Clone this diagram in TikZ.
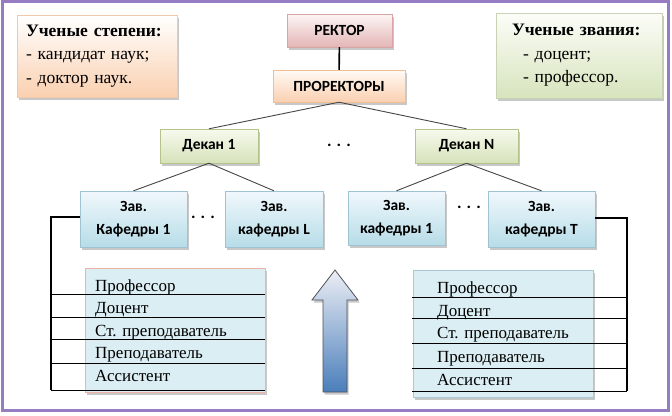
\documentclass[tikz,border=0pt]{standalone}
\usepackage{fontspec}
\setmainfont{Liberation Serif}
\newfontfamily\calib{Carlito}
\usetikzlibrary{shadows}
\definecolor{framec}{RGB}{150,125,195}
\definecolor{lnk}{RGB}{70,70,70}
\begin{document}
\begin{tikzpicture}[x=1pt,y=-1pt,
  shd/.style={drop shadow={shadow xshift=1.5pt,shadow yshift=-2.5pt,opacity=0.3,fill=black!70}},
  bx/.style={shd,inner sep=0pt,align=center,font=\calib\bfseries\fontsize{15.5}{23}\selectfont},
  rektor/.style={bx,draw={rgb,255:red,215;green,165;blue,165},top color={rgb,255:red,253;green,245;blue,245},bottom color={rgb,255:red,228;green,182;blue,182}},
  prorek/.style={bx,draw={rgb,255:red,240;green,190;blue,150},top color={rgb,255:red,255;green,250;blue,245},bottom color={rgb,255:red,250;green,208;blue,176}},
  dekan/.style={bx,draw={rgb,255:red,180;green,195;blue,140},top color={rgb,255:red,247;green,250;blue,238},bottom color={rgb,255:red,214;green,226;blue,186},minimum height=34pt},
  kaf/.style={bx,draw={rgb,255:red,160;green,195;blue,210},top color={rgb,255:red,240;green,248;blue,252},bottom color={rgb,255:red,183;green,220;blue,232},minimum height=56pt},
  info/.style={shd,inner sep=0pt,align=left,font=\fontsize{17.5}{23.5}\selectfont},
  tbl/.style={shd,fill={rgb,255:red,219;green,238;blue,243},inner sep=0pt},
  row/.style={anchor=base west,inner sep=0pt,font=\fontsize{17}{20}\selectfont},
  conn/.style={draw=lnk,line width=0.9pt},
  vline/.style={draw=black,line width=1.8pt},
  rl/.style={draw=black,line width=0.9pt},
  dots/.style={inner sep=0pt,font=\calib\bfseries\fontsize{17}{18}\selectfont}]
\useasboundingbox (0,0) rectangle (672,415);
\fill[white] (0,0) rectangle (672,415);
\draw[framec,line width=3pt] (2,1.5) rectangle (668.5,410.5);

% info boxes
\node[info,draw={rgb,255:red,240;green,200;blue,170},top color=white,bottom color={rgb,255:red,250;green,208;blue,176},
  minimum width=160pt,minimum height=82pt,text width=142pt] (deg) at (97,56)
  {\textbf{Ученые степени:}\\- кандидат наук;\\- доктор наук.};
\node[info,draw={rgb,255:red,200;green,210;blue,180},top color={rgb,255:red,252;green,253;blue,248},bottom color={rgb,255:red,215;green,228;blue,189},
  minimum width=166pt,minimum height=85pt,text width=134pt] (tit) at (579,55.5)
  {\textbf{Ученые звания:}\\\hspace*{11pt}- доцент;\\\hspace*{11pt}- профессор.};

% tree
\node[rektor,minimum width=105pt,minimum height=33pt] (r) at (339.5,30.5) {РЕКТОР};
\node[prorek,minimum width=132pt,minimum height=32pt] (p) at (339,86) {ПРОРЕКТОРЫ};
\node[dekan,minimum width=98pt] (d1) at (209,146) {Декан 1};
\node[dekan,minimum width=103pt] (dn) at (466.5,146) {Декан N};
\node[dots] (dd) at (339,145) {. . .};

\node[kaf,minimum width=107pt] (k1) at (133.5,219) {Зав.\\Кафедры 1};
\node[kaf,minimum width=98pt] (kl) at (274,219) {Зав.\\кафедры L};
\node[kaf,minimum width=97pt,minimum height=54pt] (k2) at (396.5,218) {Зав.\\кафедры 1};
\node[kaf,minimum width=107pt] (kt) at (541.5,219) {Зав.\\кафедры T};
\node[dots] (da) at (203,217) {. . .};
\node[dots] (db) at (469,207) {. . .};

\draw[draw=black,line width=1.6pt] (r) -- (p);
\draw[conn] (p.south) -- (d1.north);
\draw[conn] (p.south) -- (dn.north);
\draw[conn] (d1.south) -- (k1.north);
\draw[conn] (d1.south) -- (kl.north);
\draw[conn] (dn.south) -- (k2.north);
\draw[conn] (dn.south) -- (kt.north);

% left table
\node[tbl,draw={rgb,255:red,235;green,180;blue,165},minimum width=180pt,minimum height=124pt] (tl) at (175,330) {};
\node[row] (l1) at (95,291) {Профессор};
\node[row] (l2) at (95,313) {Доцент};
\node[row] (l3) at (95,336) {Ст. преподаватель};
\node[row] (l4) at (95,358) {Преподаватель};
\node[row] (l5) at (95,381) {Ассистент};
\coordinate (lb) at (51,390);
\draw[vline] (k1.west |- 0,217) -| (lb);
\foreach \y in {294,317,339,363,390} \draw[rl] (51,\y) -- (tl.east |- 0,\y);

% right table
\node[tbl,draw={rgb,255:red,170;green,200;blue,214},minimum width=180pt,minimum height=127pt] (tr) at (503,333.5) {};
\node[row] (r1) at (437,293) {Профессор};
\node[row] (r2) at (437,316) {Доцент};
\node[row] (r3) at (437,338) {Ст. преподаватель};
\node[row] (r4) at (437,362) {Преподаватель};
\node[row] (r5) at (437,385) {Ассистент};
\coordinate (rb) at (627,391);
\draw[vline] (kt.east |- 0,218) -| (rb);
\foreach \y in {297,318,343,368,391} \draw[rl] (412,\y) -- (627,\y);

% arrow
\draw[draw={rgb,255:red,80;green,80;blue,90},line width=0.8pt,top color={rgb,255:red,236;green,238;blue,244},bottom color={rgb,255:red,74;green,126;blue,187},shd]
  (312,300) -- (335,270) -- (358,300) -- (347,300) -- (347,392) -- (323,392) -- (323,300) -- cycle;
\end{tikzpicture}
\end{document}
